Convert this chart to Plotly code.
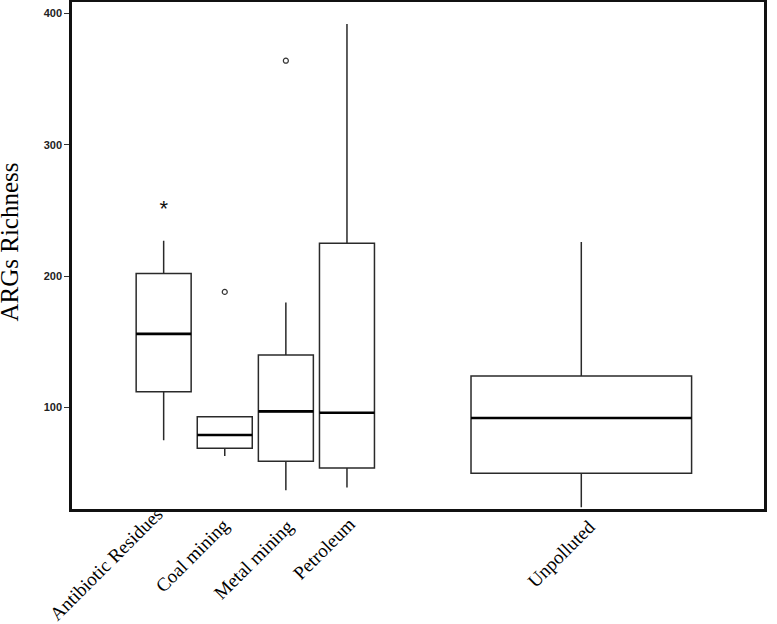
import plotly.graph_objects as go

# ---- data ----
categories = ["Antibiotic Residues", "Coal mining", "Metal mining", "Petroleum", "Unpolluted"]
lower_whisker = [75, 63, 37, 39, 24]
q1_values = [112, 69, 59, 54, 50]
medians = [156, 79, 97, 96, 92]
q3_values = [202, 93, 140, 225, 124]
upper_whisker = [227, 93, 180, 392, 226]

# outliers: (category, value)
circle_outlier_cat = ["Coal mining", "Metal mining"]
circle_outlier_val = [188, 364]
extreme_outlier_cat = ["Antibiotic Residues"]
extreme_outlier_val = [250]

y_tick_values = [100, 200, 300, 400]

# ---- layout constants ----
box_pos = [1.0, 2.0, 3.0, 4.0, 7.835]
box_width = [0.9, 0.9, 0.9, 0.9, 3.61]
label_end_x = [0.97, 2.07, 3.12, 4.13, 8.06]       # data units, where each label ends
label_top_y = [-0.008, -0.029, -0.031, -0.027, -0.031]  # paper units
pos_of = dict(zip(categories, box_pos))

fig = go.Figure()

for i, cat in enumerate(categories):
    fig.add_trace(go.Box(
        x=[box_pos[i]],
        q1=[q1_values[i]], median=[medians[i]], q3=[q3_values[i]],
        lowerfence=[lower_whisker[i]], upperfence=[upper_whisker[i]],
        width=box_width[i],
        whiskerwidth=0,
        fillcolor="white",
        line=dict(color="#2a2a2a", width=1.5),
        boxpoints=False,
        showlegend=False,
        hoverinfo="skip",
    ))
    # thicker median line
    fig.add_trace(go.Scatter(
        x=[box_pos[i] - box_width[i] / 2, box_pos[i] + box_width[i] / 2],
        y=[medians[i], medians[i]],
        mode="lines", line=dict(color="black", width=2.6),
        showlegend=False, hoverinfo="skip",
    ))

fig.add_trace(go.Scatter(
    x=[pos_of[c] for c in circle_outlier_cat], y=circle_outlier_val,
    mode="markers",
    marker=dict(symbol="circle-open", size=5, color="#333", line=dict(width=1.2)),
    showlegend=False, hoverinfo="skip",
))
fig.add_trace(go.Scatter(
    x=[pos_of[c] for c in extreme_outlier_cat], y=extreme_outlier_val,
    mode="text", text=["*"] * len(extreme_outlier_val),
    textposition="middle center",
    textfont=dict(family="Liberation Sans, Arial, sans-serif", size=22, color="#111"),
    showlegend=False, hoverinfo="skip",
))

# category labels (rotated)
for i, cat in enumerate(categories):
    fig.add_annotation(
        x=label_end_x[i], xref="x", y=label_top_y[i], yref="paper",
        text=cat, textangle=-45, showarrow=False,
        xanchor="right", yanchor="top", xshift=7, yshift=12,
        font=dict(family="Liberation Serif, Times New Roman, serif", size=19, color="black"),
    )

# y axis title
fig.add_annotation(
    x=-0.09, xref="paper", y=0.527, yref="paper",
    text="ARGs Richness", textangle=-90, showarrow=False,
    xanchor="center", yanchor="middle",
    font=dict(family="Liberation Serif, Times New Roman, serif", size=25, color="black"),
)

fig.update_layout(
    width=777, height=624,
    margin=dict(l=72, r=13, t=2, b=115),
    paper_bgcolor="white", plot_bgcolor="white",
    xaxis=dict(
        range=[-0.5, 10.825],
        showticklabels=False,
        ticks="",
        automargin=False,
        showgrid=False, zeroline=False,
        showline=True, linecolor="#111", linewidth=2.5, mirror=True,
    ),
    yaxis=dict(
        range=[22.7, 408.7],
        tickvals=y_tick_values,
        ticks="outside", ticklen=5, tickwidth=1, tickcolor="#333",
        automargin=False,
        tickfont=dict(family="Liberation Sans Narrow, Arial Narrow, Liberation Sans, sans-serif",
                      size=11, color="#222", weight="bold"),
        showgrid=False, zeroline=False,
        showline=True, linecolor="#111", linewidth=2.5, mirror=True,
    ),
)

fig.write_html("out.html",
               config={"displayModeBar": False},
               post_script="document.body.style.margin='0';document.body.style.padding='0';")
